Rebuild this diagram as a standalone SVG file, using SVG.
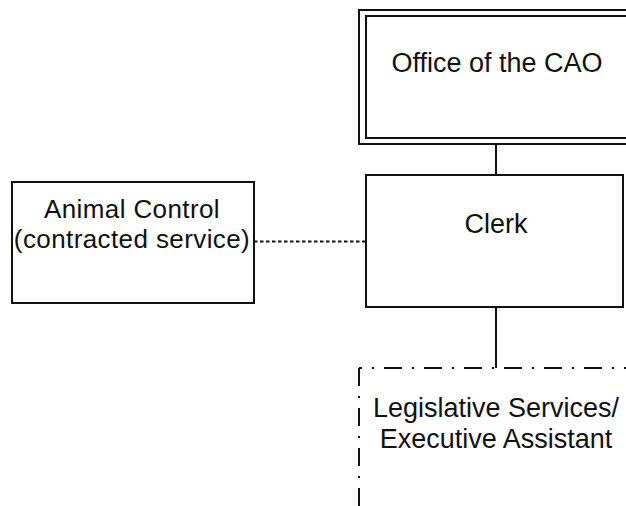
<svg xmlns="http://www.w3.org/2000/svg" width="626" height="506" viewBox="0 0 626 506">
  <style>
    .box { fill: #ffffff; stroke: #111111; stroke-width: 2; }
    .lbl { font-family: "Liberation Sans", Arial, sans-serif; font-size: 27px; fill: #111111; text-anchor: middle; }
    .tight { font-size: 26px; letter-spacing: 0.4px; }
    .link { stroke: #111111; stroke-width: 2; fill: none; }
    .dotted { stroke-dasharray: 3.5 2.5; }
    .dashdot { stroke: #111111; stroke-width: 2; fill: none; stroke-dasharray: 18 10 2 10; }
  </style>
  <rect width="626" height="506" fill="#ffffff"/>

  <g id="connectors">
    <line class="link" x1="496" y1="144" x2="496" y2="175"/>
    <line class="link" x1="496" y1="307" x2="496" y2="368"/>
    <line class="link dotted" x1="254" y1="241.5" x2="366" y2="241.5"/>
  </g>

  <g id="office-cao">
    <rect class="box" x="359" y="10" width="280" height="134"/>
    <rect class="box" x="366" y="16" width="266" height="122"/>
    <text class="lbl" x="497" y="72">Office of the CAO</text>
  </g>

  <g id="clerk">
    <rect class="box" x="366" y="175" width="257" height="132"/>
    <text class="lbl" x="496" y="233">Clerk</text>
  </g>

  <g id="animal-control">
    <rect class="box" x="12" y="182" width="242" height="121"/>
    <text class="lbl tight" x="132" y="218">Animal Control</text>
    <text class="lbl tight" x="132" y="248">(contracted service)</text>
  </g>

  <g id="legislative-services">
    <line class="dashdot" x1="359" y1="368" x2="359" y2="520"/>
    <line class="dashdot" x1="359" y1="368" x2="640" y2="368" stroke-dashoffset="15"/>
    <text class="lbl" x="496" y="417">Legislative Services/</text>
    <text class="lbl" x="496" y="448">Executive Assistant</text>
  </g>
</svg>
